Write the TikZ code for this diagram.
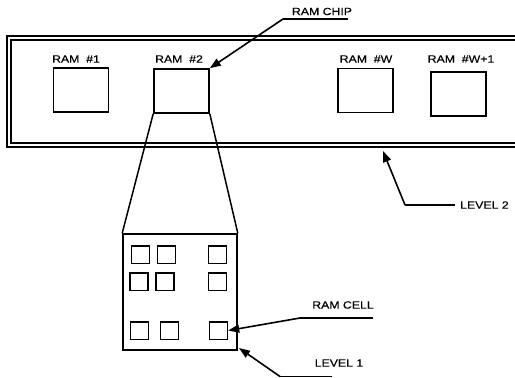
\documentclass[tikz,border=0pt]{standalone}
\usepackage{fontspec}
\setmainfont{Liberation Sans}[FakeStretch=1.17,FakeBold=0.4]
\usetikzlibrary{arrows.meta}
\begin{document}
\begin{tikzpicture}[x=1pt,y=-1pt,
  font=\fontsize{10.5}{12}\selectfont,
  chip/.style={draw,line width=1.6pt,minimum width=55pt,minimum height=44pt,inner sep=0pt},
  cell/.style={draw,line width=1.5pt,minimum width=18pt,minimum height=17.5pt,inner sep=0pt},
  lead/.style={line width=1.6pt,-{Triangle[length=11pt,width=8pt]}},
  plain/.style={line width=1.5pt},
  lbl/.style={inner sep=0pt}]
\clip (0,0) rectangle (515,378);
\fill[white] (0,0) rectangle (515,378);
% board (level 2)
\node[draw,line width=1.5pt,double,double distance=2.3pt,minimum width=521pt,minimum height=107pt,inner sep=0pt] (board) at (269.5,91.5) {};
% RAM chips
\node[chip] (ram1) at (81,90) {};
\node[chip] (ram2) at (181.5,91) {};
\node[chip] (ramw) at (365.5,90.5) {};
\node[chip] (ramw1) at (458.5,94) {};
\node[lbl] (l1) at (76,59) {RAM\ \ \#1};
\node[lbl] (l2) at (179,59) {RAM\ \ \#2};
\node[lbl] (l3) at (366,59) {RAM\ \ \#W};
\node[lbl] (l4) at (461,59) {RAM\ \ \#W+1};
% level 1 magnified chip
\node[draw,line width=1.6pt,minimum width=114pt,minimum height=116pt,inner sep=0pt] (lev1) at (180,292) {};
\draw[plain] (ram2.south west) -- (lev1.north west);
\draw[plain] (ram2.south east) -- (lev1.north east);
% cells
\node[cell] (c1) at (140.5,254.5) {};
\node[cell] (c2) at (166.5,254.5) {};
\node[cell] (c3) at (217.5,254.5) {};
\node[cell] (c4) at (139,281.5) {};
\node[cell] (c5) at (165,281.5) {};
\node[cell] (c6) at (217.5,281.5) {};
\node[cell] (c7) at (139.5,330.5) {};
\node[cell] (c8) at (169.5,330.5) {};
\node[cell] (c9) at (218.5,330.5) {};
% RAM CHIP label
\node[lbl] (tchip) at (322,11.5) {RAM CHIP};
\coordinate (chipR) at (348,19);
\coordinate (chipL) at (283,19);
\draw[plain] (chipR) -- (chipL);
\draw[lead] (chipL) -- (ram2.north east);
% LEVEL 2 label
\node[lbl,anchor=west] (tlev2) at (460,205) {LEVEL 2};
\coordinate (lev2R) at (455,205);
\coordinate (lev2L) at (405,205);
\coordinate (lev2T) at (383,151);
\draw[plain] (lev2R) -- (lev2L);
\draw[lead] (lev2L) -- (lev2T);
% RAM CELL label
\node[lbl] (tcell) at (343,305) {RAM CELL};
\coordinate (cellR) at (373,318);
\coordinate (cellL) at (300,318);
\draw[plain] (cellR) -- (cellL);
\draw[lead] (cellL) -- (c9.east);
% LEVEL 1 label
\node[lbl] (tlev1) at (339,363) {LEVEL 1};
\coordinate (lev1R) at (332,376.5);
\coordinate (lev1L) at (280,376.5);
\coordinate (lev1T) at (239,348);
\draw[plain] (lev1R) -- (lev1L);
\draw[lead] (lev1L) -- (lev1T);
\end{tikzpicture}
\end{document}
